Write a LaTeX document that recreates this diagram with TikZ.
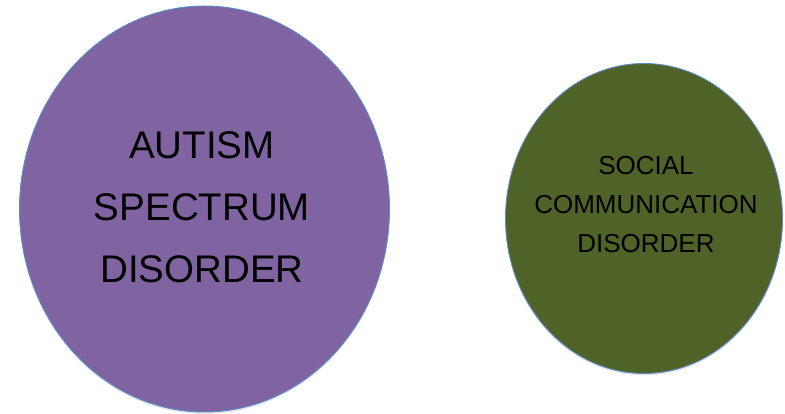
\documentclass[tikz,border=0pt]{standalone}
\usepackage{fontspec}
\setmainfont{Liberation Sans}
\usetikzlibrary{shapes.geometric,shadows}
\definecolor{asdpurple}{HTML}{8064A2}
\definecolor{scdgreen}{HTML}{4F6228}
\definecolor{rimblue}{HTML}{5B8DC9}
\tikzset{
  blob/.style={ellipse, draw=rimblue, line width=0.9pt, inner sep=0pt,
    drop shadow={opacity=0.18, shadow xshift=0pt, shadow yshift=-2pt}},
  blobtext/.style={align=center, inner sep=0pt, text=black}
}
\begin{document}
\begin{tikzpicture}[x=1pt,y=1pt]
\useasboundingbox (0,0) rectangle (785,414);
\node[blob, fill=asdpurple, minimum width=370pt, minimum height=406pt] (asd) at (204.5,205) {};
\node[blob, fill=scdgreen, minimum width=277pt, minimum height=310pt] (scd) at (644,195.5) {};
\node[blobtext, font=\fontsize{38.5}{62}\selectfont] (asdt) at (202,206.5) {AUTISM\\SPECTRUM\\DISORDER};
\node[blobtext, font=\fontsize{26}{39}\selectfont] (scdt) at (646,209) {SOCIAL\\COMMUNICATION\\DISORDER};
\end{tikzpicture}
\end{document}
